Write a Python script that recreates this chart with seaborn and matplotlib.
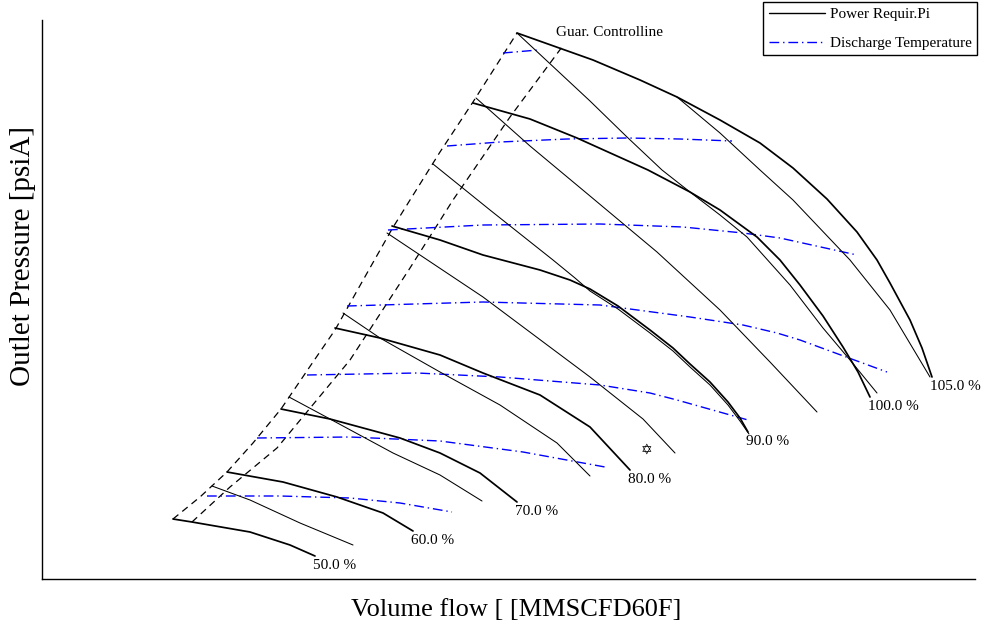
import matplotlib
matplotlib.use("Agg")
import matplotlib.pyplot as plt
import seaborn as sns
from matplotlib.lines import Line2D

# Compressor map data (flow in MMSCFD, outlet pressure in psiA)
surge_flow = [13.1, 15.8, 18.5, 21.1, 23.9, 27.1, 29.3, 32.0, 35.0, 36.8, 39.8, 43.1, 47.5]
surge_pres = [60, 82, 107, 136, 170, 217, 249, 297, 350, 379, 427, 477, 546]

control_flow = [15.0, 18.8, 23.5, 30.8, 36.8, 41.1, 46.8, 52.0]
control_pres = [57, 92, 131, 219, 311, 379, 462, 532]

# Speed lines (thick)
speed_labels = ["50.0 %", "60.0 %", "70.0 %", "80.0 %", "90.0 %", "100.0 %", "105.0 %"]
speed_flow = [
    [13.1, 15.0, 20.8, 24.8, 27.3],
    [18.5, 24.1, 29.5, 34.1, 37.1],
    [23.9, 28.8, 35.8, 39.8, 43.8, 47.5],
    [29.3, 33.8, 39.8, 44.1, 49.8, 54.8, 58.8],
    [35.0, 39.8, 44.1, 49.8, 52.8, 54.8, 57.6, 60.8, 63.1, 64.8, 66.8, 68.6, 69.8, 70.6],
    [43.1, 48.8, 53.5, 60.6, 64.8, 67.8, 71.5, 73.8, 75.8, 78.1, 80.1, 81.6, 82.8],
    [47.5, 55.1, 59.8, 63.5, 67.8, 71.8, 75.1, 78.5, 81.5, 83.5, 84.8, 86.8, 88.0, 89.0],
]
speed_pres = [
    [60, 57, 47, 34, 23],
    [107, 97, 82, 66, 48],
    [170, 160, 141, 126, 106, 77],
    [251, 241, 224, 206, 184, 152, 109],
    [353, 339, 324, 309, 299, 290, 273, 249, 231, 215, 197, 177, 161, 147],
    [476, 460, 441, 409, 387, 369, 342, 319, 294, 263, 232, 207, 182],
    [546, 519, 499, 482, 459, 436, 411, 380, 347, 319, 296, 259, 231, 202],
]

# Power requirement lines (thin)
power_flow = [
    [17.0, 20.8, 25.8, 31.1],
    [24.7, 28.8, 35.1, 39.8, 44.0],
    [30.1, 33.8, 39.8, 45.8, 51.5, 54.8],
    [34.5, 44.1, 54.8, 60.1, 63.3],
    [39.1, 44.8, 51.1, 53.3, 54.8, 57.6, 60.8, 63.1, 64.8, 66.8, 68.6, 69.8, 70.7],
    [43.4, 48.8, 54.8, 61.5, 67.8, 72.8, 77.5],
    [47.5, 50.4, 54.8, 58.5, 62.0, 64.8, 67.8, 70.5, 74.8, 78.1, 80.8, 83.5],
    [63.5, 67.8, 71.8, 75.1, 80.8, 84.8, 88.8],
]
power_pres = [
    [93, 79, 56, 34],
    [182, 160, 126, 104, 78],
    [266, 241, 207, 174, 136, 103],
    [346, 282, 202, 160, 126],
    [415, 369, 319, 301, 288, 270, 246, 228, 212, 194, 174, 158, 145],
    [481, 433, 383, 327, 269, 217, 167],
    [546, 519, 478, 442, 409, 387, 364, 342, 294, 251, 219, 186],
    [482, 446, 409, 379, 319, 269, 202],
]

# Discharge temperature lines (blue dash-dot)
temp_flow = [
    [16.5, 23.8, 30.8, 35.8, 41.0],
    [21.5, 30.8, 39.8, 48.1, 56.3],
    [26.5, 37.5, 45.8, 55.8, 60.8, 63.5, 70.6],
    [30.5, 44.1, 55.8, 64.8, 70.1, 73.5, 75.8, 84.5],
    [34.6, 44.1, 55.8, 64.1, 70.1, 73.8, 81.5],
    [40.5, 45.8, 52.5, 58.5, 63.8, 69.0],
    [46.1, 49.6],
]
temp_pres = [
    [83, 83, 81, 76, 67],
    [141, 142, 138, 127, 112],
    [204, 206, 202, 194, 186, 179, 159],
    [273, 277, 274, 262, 254, 246, 239, 207],
    [349, 354, 355, 352, 346, 341, 324],
    [433, 437, 440, 441, 440, 438],
    [526, 529],
]

# Operating point
op_flow = 60.5
op_pres = 129

sns.set_style("white")
plt.rcParams["font.family"] = ["Liberation Serif", "DejaVu Serif"]
plt.rcParams["text.color"] = "black"
plt.rcParams["axes.labelcolor"] = "black"
plt.rcParams["lines.scale_dashes"] = False

fig = plt.figure(figsize=(9.82, 6.27), dpi=100)
ax = fig.add_axes([42 / 982, 48 / 627, 933 / 982, 559 / 627])

blue_dash = (0, (7.0, 2.8, 1.0, 2.8))
black_dash = (0, (5.0, 3.6))

# Surge line and guaranteed control line
sns.lineplot(x=surge_flow, y=surge_pres, ax=ax, color="black", lw=0.9,
             linestyle=black_dash, sort=False, estimator=None)
sns.lineplot(x=control_flow, y=control_pres, ax=ax, color="black", lw=0.9,
             linestyle=black_dash, sort=False, estimator=None)

# Temperature lines
for fx, fy in zip(temp_flow, temp_pres):
    sns.lineplot(x=fx, y=fy, ax=ax, color="#0000ff", lw=1.0,
                 linestyle=blue_dash, sort=False, estimator=None)

# Thin lines
for fx, fy in zip(power_flow, power_pres):
    sns.lineplot(x=fx, y=fy, ax=ax, color="black", lw=0.75,
                 sort=False, estimator=None)

# Speed lines with labels
for fx, fy, lab in zip(speed_flow, speed_pres, speed_labels):
    sns.lineplot(x=fx, y=fy, ax=ax, color="black", lw=1.25,
                 sort=False, estimator=None)
    ax.annotate(lab, (fx[-1], fy[-1]), xytext=(-1.5, -2), textcoords="offset points",
                ha="left", va="top", fontsize=11)

# Operating point (star)
ax.text(op_flow, op_pres, "\u2721", family="DejaVu Sans", fontsize=10,
        ha="center", va="center")

ax.text(51.4, 546, "Guar. Controlline", fontsize=11, ha="left", va="center")

ax.set_xlim(0, 93.3)
ax.set_ylim(0, 559)
ax.set_xticks([])
ax.set_yticks([])
for side in ["top", "right"]:
    ax.spines[side].set_visible(False)
for side in ["left", "bottom"]:
    ax.spines[side].set_color("black")
    ax.spines[side].set_linewidth(1.0)

ax.set_xlabel("Volume flow [ [MMSCFD60F]", fontsize=19)
ax.set_ylabel("Outlet Pressure [psiA]", fontsize=21)
ax.xaxis.set_label_coords(0.508, -0.035)
ax.yaxis.set_label_coords(-0.0065, 0.578)

handles = [
    Line2D([], [], color="black", lw=1.0),
    Line2D([], [], color="#0000ff", lw=1.0, linestyle=blue_dash),
]
leg = fig.legend(handles, ["Power Requir.Pi", "Discharge Temperature"],
                 loc="upper right", bbox_to_anchor=(977 / 982, 1 - 2 / 627),
                 borderaxespad=0, fontsize=11, frameon=True, fancybox=False,
                 framealpha=1, edgecolor="black", handlelength=3.7,
                 handletextpad=0.3, labelspacing=1.0, borderpad=0.35)
leg.get_frame().set_linewidth(1.0)

fig.savefig("out.png", dpi=100)
